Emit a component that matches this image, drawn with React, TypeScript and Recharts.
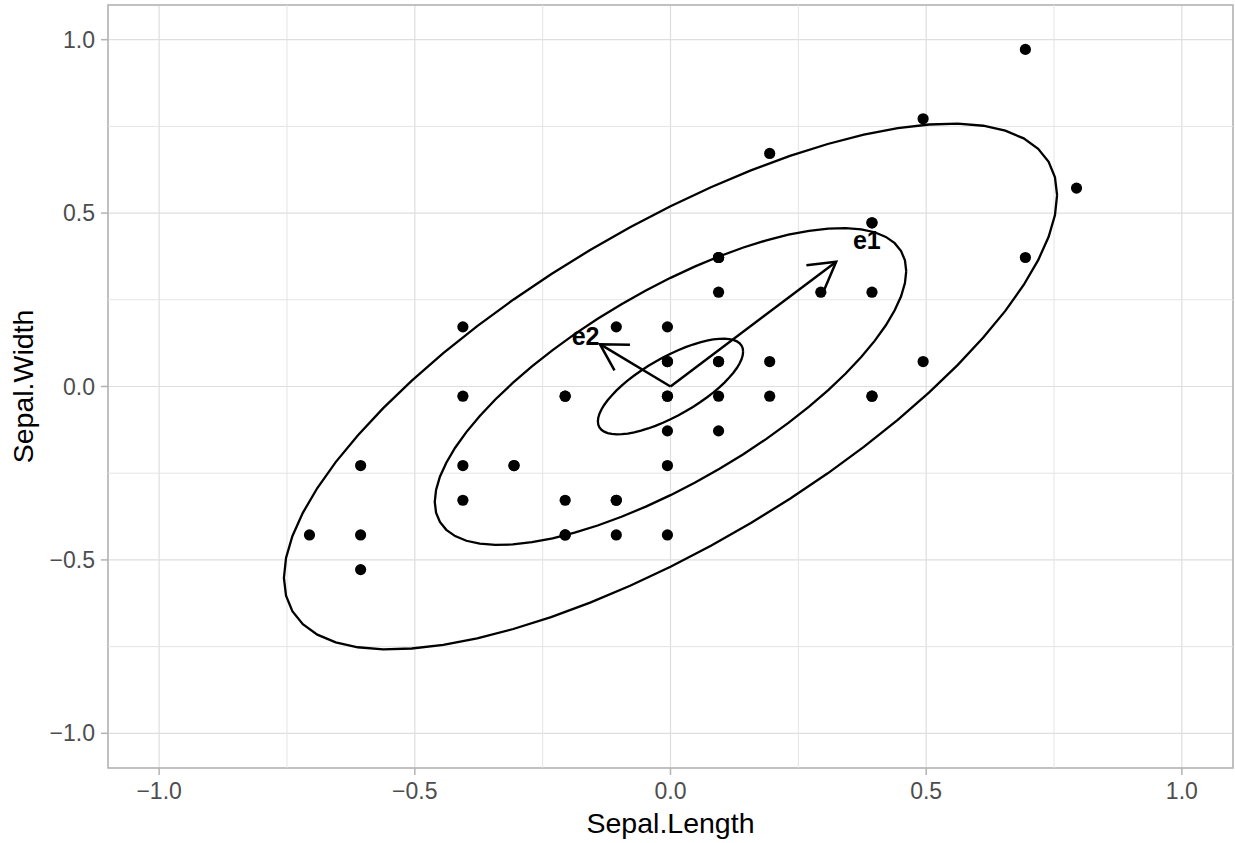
import { ScatterChart, Scatter, XAxis, YAxis, CartesianGrid, ReferenceLine, ReferenceArea, Label } from 'recharts'

// centred setosa measurements (value - mean)
const sepalLength = [0.094, -0.106, -0.306, -0.406, -0.006, 0.394, -0.406, -0.006, -0.606, -0.106, 0.394, -0.206, -0.206, -0.706, 0.794, 0.694, 0.394, 0.094, 0.694, 0.094, 0.394, 0.094, -0.406, 0.094, -0.206, -0.006, -0.006, 0.194, 0.194, -0.306, -0.206, 0.394, 0.194, 0.494, -0.106, -0.006, 0.494, -0.106, -0.606, 0.094, -0.006, -0.606, -0.006, 0.094, -0.206, 0.094, -0.406, 0.294, -0.006]
const sepalWidth = [0.072, -0.428, -0.228, -0.328, 0.172, 0.472, -0.028, -0.028, -0.528, -0.328, 0.272, -0.028, -0.428, -0.428, 0.572, 0.972, 0.472, 0.072, 0.372, 0.372, -0.028, 0.272, 0.172, -0.128, -0.028, -0.428, -0.028, 0.072, -0.028, -0.228, -0.328, -0.028, 0.672, 0.772, -0.328, -0.228, 0.072, 0.172, -0.428, -0.028, 0.072, -0.228, 0.072, 0.372, -0.428, 0.372, -0.228, 0.272, -0.128]

// ellipse half extents along x and y, and their shared correlation
const ellipseHalfWidth = [0.142, 0.461, 0.756]
const ellipseHalfHeight = [0.138, 0.457, 0.758]
const ellipseCorr = 0.728

// eigenvector arrows (tip) and label positions
const arrowNames = ['e1', 'e2']
const arrowTipX = [0.324, -0.138]
const arrowTipY = [0.360, 0.122]
const labelX = [0.384, -0.166]
const labelY = [0.422, 0.146]

const majorTicks = [-1, -0.5, 0, 0.5, 1]
const minorTicks = [-0.75, -0.25, 0.25, 0.75]

const W = 1235
const H = 843
const M = { top: 5, right: 2, left: 108, bottom: 75 }
const pxPerX = (W - M.left - M.right) / 2.2
const pxPerY = (H - M.top - M.bottom) / 2.2

const points = sepalLength.map((x, i) => ({ x, y: sepalWidth[i] }))

const ellipse = (hw: number, hh: number) => {
  const d = Math.acos(ellipseCorr)
  const n = 60
  return Array.from({ length: n + 1 }, (_, i) => {
    const t = (2 * Math.PI * i) / n
    return { x: hw * Math.cos(t), y: hh * Math.cos(t + d) }
  })
}

const fmt = (v: number) => (v < 0 ? '\u2212' : '') + Math.abs(v).toFixed(1)

const Dot = (p: any) => <circle cx={p.cx} cy={p.cy} r={5.6} fill="#000" />
const Nothing = () => <g />

const ArrowHead = (p: any) => {
  if (!p.payload?.head) return <g />
  const vx = p.payload.x * pxPerX
  const vy = -p.payload.y * pxPerY
  const a = Math.atan2(-vy, -vx)
  const len = 30
  const b = Math.PI / 6
  const x1 = p.cx + len * Math.cos(a + b)
  const y1 = p.cy + len * Math.sin(a + b)
  const x2 = p.cx + len * Math.cos(a - b)
  const y2 = p.cy + len * Math.sin(a - b)
  return <path d={`M${x1},${y1}L${p.cx},${p.cy}L${x2},${y2}`} fill="none" stroke="#000" strokeWidth={2.5} />
}

const TextMark = (p: any) => (
  <text x={p.cx} y={p.cy} textAnchor="middle" dominantBaseline="central" fontSize={25} fontWeight="bold" fill="#000">
    {p.payload.label}
  </text>
)

const font = '"Liberation Sans", Arial, sans-serif'

export default function App() {
  return (
    <div style={{ width: W, height: H, fontFamily: font }}>
      <style>{'body{margin:0}'}</style>
      <ScatterChart width={W} height={H} margin={{ top: M.top, right: M.right, bottom: 0, left: 0 }}>
        <CartesianGrid stroke="#dedede" strokeWidth={1.2} />
        {minorTicks.map((t) => (
          <ReferenceLine key={'vx' + t} x={t} stroke="#e4e4e4" strokeWidth={1} />
        ))}
        {minorTicks.map((t) => (
          <ReferenceLine key={'hy' + t} y={t} stroke="#e4e4e4" strokeWidth={1} />
        ))}
        <ReferenceArea x1={-1.1} x2={1.1} y1={-1.1} y2={1.1} fill="none" stroke="#b3b3b3" strokeWidth={1.5} ifOverflow="visible" />
        <XAxis
          type="number"
          dataKey="x"
          domain={[-1.1, 1.1]}
          ticks={majorTicks}
          tickFormatter={fmt}
          allowDataOverflow
          height={M.bottom}
          axisLine={false}
          tickLine={{ stroke: '#b3b3b3', strokeWidth: 1.5 }}
          tickSize={7}
          tickMargin={8}
          tick={{ fill: '#4d4d4d', fontSize: 23, fontFamily: font }}
        >
          <Label value="Sepal.Length" position="insideBottom" offset={10} style={{ fontSize: 28.5, fill: '#000', fontFamily: font }} />
        </XAxis>
        <YAxis
          type="number"
          dataKey="y"
          domain={[-1.1, 1.1]}
          ticks={majorTicks}
          tickFormatter={fmt}
          allowDataOverflow
          width={M.left}
          axisLine={false}
          tickLine={{ stroke: '#b3b3b3', strokeWidth: 1.5 }}
          tickSize={7}
          tickMargin={6}
          tick={{ fill: '#4d4d4d', fontSize: 23, fontFamily: font }}
        >
          <Label value="Sepal.Width" angle={-90} position="insideLeft" offset={23} style={{ fontSize: 28.5, fill: '#000', textAnchor: 'middle', fontFamily: font }} />
        </YAxis>
        {ellipseHalfWidth.map((hw, i) => (
          <Scatter
            key={'ell' + i}
            data={ellipse(hw, ellipseHalfHeight[i])}
            line={{ stroke: '#000', strokeWidth: 2.3 }}
            lineType="joint"
            shape={Nothing}
            isAnimationActive={false}
          />
        ))}
        {arrowNames.map((n, i) => (
          <Scatter
            key={'arr' + n}
            data={[{ x: 0, y: 0 }, { x: arrowTipX[i], y: arrowTipY[i], head: true }]}
            line={{ stroke: '#000', strokeWidth: 2.5 }}
            lineType="joint"
            shape={ArrowHead}
            isAnimationActive={false}
          />
        ))}
        <Scatter data={points} shape={Dot} isAnimationActive={false} />
        <Scatter
          data={arrowNames.map((label, i) => ({ x: labelX[i], y: labelY[i], label }))}
          shape={TextMark}
          isAnimationActive={false}
        />
      </ScatterChart>
    </div>
  )
}
